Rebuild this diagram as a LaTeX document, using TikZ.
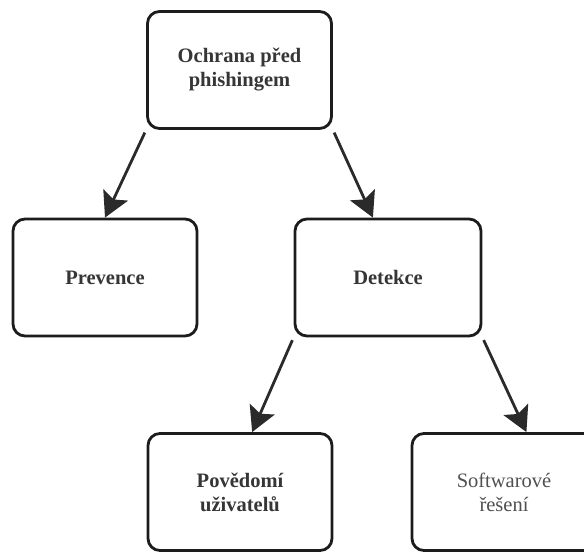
\documentclass[tikz,border=0pt]{standalone}
\usepackage{fontspec}
\setmainfont{Liberation Serif}
\usetikzlibrary{arrows.meta,calc}
\definecolor{boxline}{HTML}{1C1C1C}
\definecolor{txtdark}{HTML}{363636}
\definecolor{txtlight}{HTML}{505050}
\definecolor{arrowcol}{HTML}{2A2A2A}
\tikzset{
  box/.style={draw=boxline, line width=2.8pt, rounded corners=12pt, fill=white,
    minimum width=184pt, minimum height=117pt, inner sep=0pt,
    align=center, font=\fontsize{20.5}{24}\selectfont\bfseries, text=txtdark},
  lightbox/.style={box, font=\fontsize{20.5}{24}\selectfont, text=txtlight},
  conn/.style={draw=arrowcol, line width=2.8pt,
    -{Stealth[length=25pt, width=27pt, inset=5pt]}, shorten <=3pt}
}
\begin{document}
\begin{tikzpicture}[x=1pt, y=-1pt]
  \useasboundingbox (0,0) rectangle (584,552);
  \clip (0,0) rectangle (584,552);
  \node[box] (top) at (239.5,70) {Ochrana před\\phishingem};
  \node[box] (prev) at (105,277.5) {Prevence};
  \node[box, minimum width=186pt] (det) at (388,277.5) {Detekce};
  \node[box] (pov) at (240,492) {Povědomí\\uživatelů};
  \node[lightbox] (soft) at (504,492) {Softwarové\\řešení};
  \draw[conn] (top.south west) -- (prev.north);
  \draw[conn] (top.south east) -- ($(det.north west)!0.42!(det.north east)$);
  \draw[conn] (det.south west) -- ($(pov.north west)!0.565!(pov.north east)$);
  \draw[conn] (det.south east) -- ($(soft.north west)!0.62!(soft.north east)$);
\end{tikzpicture}
\end{document}
